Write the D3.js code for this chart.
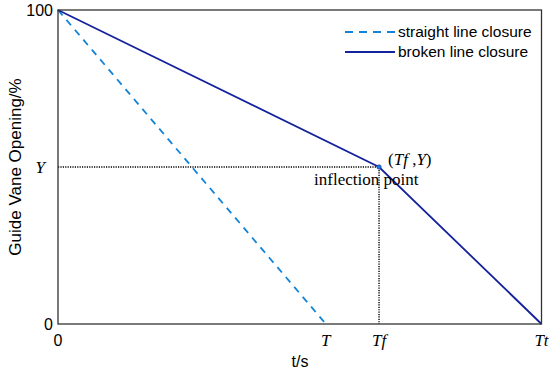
<!DOCTYPE html>
<html>
<head>
<meta charset="utf-8">
<script src="https://cdn.jsdelivr.net/npm/d3@7"></script>
<style>
  body { margin: 0; background: #fff; }
  svg { display: block; }
</style>
</head>
<body>
<div class="graph_wrapper"></div>
<script>
// key times (s, relative) and openings (%)
var timeKeys = ['0', 'T', 'Tf', 'Tt'];
var timeVals = [0, 5.54, 6.64, 10];
var openKeys = ['0', 'Y', '100'];
var openVals = [0, 50, 100];

var straightT = [0, 5.54];
var straightY = [100, 0];
var brokenT = [0, 6.64, 10];
var brokenY = [100, 50, 0];

var seriesNames = ['straight line closure', 'broken line closure'];

var width = 550;
var height = 372;
var margin = { top: 10, right: 8.5, bottom: 48, left: 58 };

var svg = d3.select('.graph_wrapper').append('svg')
  .attr('width', width).attr('height', height);

var x = d3.scaleLinear().domain([0, 10]).range([margin.left, width - margin.right]);
var y = d3.scaleLinear().domain([0, 100]).range([height - margin.bottom, margin.top]);

var serif = '"Liberation Serif", "Times New Roman", serif';
var sans = '"Liberation Sans", Arial, sans-serif';

// guide lines to the inflection point
var tf = brokenT[1], yv = brokenY[1];
svg.append('path')
  .attr('d', 'M' + x(0) + ',' + y(yv) + 'H' + x(tf) + 'V' + y(0))
  .attr('fill', 'none').attr('stroke', '#000')
  .attr('stroke-width', 1.4).attr('stroke-dasharray', '1.2,1.2');

var line = d3.line().x(function (d) { return x(d[0]); }).y(function (d) { return y(d[1]); });

svg.append('path')
  .datum(d3.zip(straightT, straightY))
  .attr('d', line).attr('fill', 'none')
  .attr('stroke', '#1283d6').attr('stroke-width', 1.8)
  .attr('stroke-dasharray', '7,6');

svg.append('path')
  .datum(d3.zip(brokenT, brokenY))
  .attr('d', line).attr('fill', 'none')
  .attr('stroke', '#14239c').attr('stroke-width', 1.8);

svg.append('circle')
  .attr('cx', x(tf)).attr('cy', y(yv)).attr('r', 2.2)
  .attr('fill', '#1283d6').attr('stroke', '#14239c').attr('stroke-width', 0.6);

// frame
svg.append('rect')
  .attr('x', x(0)).attr('y', y(100))
  .attr('width', x(10) - x(0)).attr('height', y(0) - y(100))
  .attr('fill', 'none').attr('stroke', '#333').attr('stroke-width', 1.3);

// y tick labels
svg.selectAll('.ylab').data(openKeys).enter().append('text')
  .attr('x', x(0) - 5)
  .attr('y', function (d, i) { return y(openVals[i]); })
  .attr('dy', '0.35em')
  .attr('text-anchor', 'end')
  .style('font-family', function (d) { return d === 'Y' ? serif : sans; })
  .style('font-style', function (d) { return d === 'Y' ? 'italic' : 'normal'; })
  .style('font-size', function (d) { return d === 'Y' ? '17px' : '16px'; })
  .attr('dx', function (d) { return d === 'Y' ? '-8' : '0'; })
  .text(function (d) { return d; });

// x tick labels
svg.selectAll('.xlab').data(timeKeys).enter().append('text')
  .attr('x', function (d, i) { return x(timeVals[i]); })
  .attr('y', y(0) + 22)
  .attr('text-anchor', 'middle')
  .style('font-family', function (d) { return d === '0' ? sans : serif; })
  .style('font-style', function (d) { return d === '0' ? 'normal' : 'italic'; })
  .style('font-size', function (d) { return d === '0' ? '16px' : '17px'; })
  .text(function (d) { return d; });

svg.append('text')
  .attr('x', 300).attr('y', height - 5)
  .attr('text-anchor', 'middle')
  .style('font-family', sans).style('font-size', '16px')
  .text('t/s');

svg.append('text')
  .attr('transform', 'translate(21,' + y(50) + ') rotate(-90)')
  .attr('text-anchor', 'middle')
  .style('font-family', sans).style('font-size', '17px')
  .text('Guide Vane Opening/%');

// point annotation
var ann = svg.append('text')
  .attr('x', x(tf) + 9).attr('y', y(yv) - 2)
  .style('font-family', serif).style('font-size', '17px');
ann.append('tspan').text('(');
ann.append('tspan').style('font-style', 'italic').text('Tf');
ann.append('tspan').text(' ,');
ann.append('tspan').style('font-style', 'italic').text('Y');
ann.append('tspan').text(')');

svg.append('text')
  .attr('x', x(tf) - 65).attr('y', y(yv) + 18)
  .style('font-family', serif).style('font-size', '17px')
  .text('inflection point');

// legend
var legend = svg.selectAll('.legend').data(seriesNames).enter().append('g')
  .attr('class', 'legend')
  .attr('transform', function (d, i) { return 'translate(345,' + (32 + i * 20) + ')'; });

legend.append('line')
  .attr('x1', 0).attr('x2', 50).attr('y1', 0).attr('y2', 0)
  .attr('stroke', function (d, i) { return i === 0 ? '#1283d6' : '#14239c'; })
  .attr('stroke-width', 1.8)
  .attr('stroke-dasharray', function (d, i) { return i === 0 ? '8,6' : null; });

legend.append('text')
  .attr('x', 53).attr('dy', '0.35em')
  .style('font-family', sans).style('font-size', '15.5px')
  .text(function (d) { return d; });
</script>
</body>
</html>
